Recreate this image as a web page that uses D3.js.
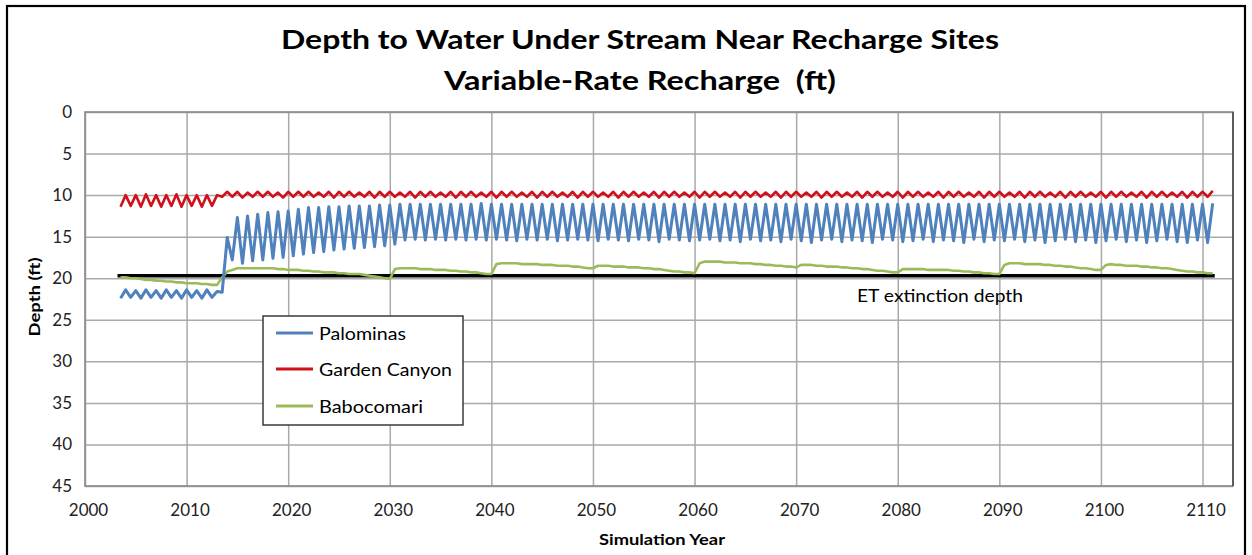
<!DOCTYPE html>
<html>
<head>
<meta charset="utf-8">
<script src="https://cdn.jsdelivr.net/npm/d3@7"></script>
<style>
  html, body { margin: 0; padding: 0; background: #fff; }
  svg { display: block; font-family: Lato, "Open Sans", sans-serif; }
</style>
</head>
<body>
<svg id="chart" width="1252" height="555"></svg>
<script>
// Semiannual model output, first sample at 2003.5
const startYear = 2003.5;
const stepYears = 0.5;

// Depth to water (ft) at Palominas
const palominas = [
  22.4,21.4,22.3,21.5,22.4,21.4,22.3,21.5,22.4,21.4,22.3,21.5,22.4,21.4,22.3,21.5,22.4,21.4,22.3,21.6,
  21.7,15.1,17.8,12.7,18.2,12.5,17.9,12.3,17.8,12.1,17.6,12.0,17.5,11.9,17.3,11.7,17.1,11.5,16.9,11.5,
  16.8,11.4,16.6,11.4,16.5,11.3,16.4,11.3,16.3,11.3,16.2,11.2,16.1,11.2,15.9,11.1,15.4,11.1,15.3,11.1,
  15.4,11.1,15.3,11.1,15.4,11.1,15.3,11.1,15.4,11.1,15.3,11.0,15.4,11.1,15.3,11.1,15.4,11.1,15.5,11.1,
  15.3,11.1,15.4,11.1,15.3,11.1,15.5,11.1,15.4,11.1,15.3,11.1,15.4,11.1,15.5,11.1,15.3,11.1,15.4,11.1,
  15.5,11.1,15.3,11.1,15.4,11.1,15.6,11.1,15.3,11.1,15.4,11.1,15.5,11.1,15.4,11.1,15.3,11.1,15.5,11.1,
  15.4,11.1,15.6,11.1,15.3,11.1,15.5,11.1,15.4,11.1,15.6,11.1,15.3,11.1,15.5,11.1,15.7,11.1,15.4,11.1,
  15.3,11.1,15.6,11.1,15.4,11.1,15.5,11.1,15.7,11.1,15.3,11.1,15.4,11.1,15.6,11.1,15.5,11.1,15.3,11.1,
  15.6,11.1,15.4,11.1,15.5,11.1,15.7,11.1,15.3,11.1,15.6,11.1,15.4,11.1,15.5,11.1,15.3,11.1,15.6,11.1,
  15.4,11.1,15.7,11.1,15.5,11.1,15.3,11.1,15.6,11.1,15.4,11.1,15.7,11.1,15.5,11.1,15.3,11.1,15.6,11.1,
  15.4,11.1,15.7,11.1,15.5,11.1,15.3,11.1,15.6,11.1,15.7,11.1,15.4,11.1,15.7,11.0
];

// Depth to water (ft) at Garden Canyon
const gardenCanyon = [
  11.4,10.0,11.3,10.0,11.4,9.9,11.3,10.0,11.4,10.0,11.3,9.9,11.4,10.0,11.3,10.0,11.4,10.0,11.3,10.0,
  10.2,9.6,10.2,9.6,10.3,9.7,10.2,9.6,10.2,9.6,10.2,9.7,10.3,9.6,10.2,9.6,10.2,9.6,10.2,9.7,
  10.2,9.6,10.3,9.6,10.2,9.6,10.2,9.7,10.2,9.6,10.3,9.6,10.2,9.6,10.2,9.7,10.2,9.6,10.3,9.6,
  10.2,9.6,10.2,9.7,10.2,9.6,10.3,9.6,10.2,9.6,10.2,9.7,10.2,9.6,10.3,9.6,10.2,9.6,10.2,9.7,
  10.2,9.6,10.3,9.6,10.2,9.6,10.2,9.7,10.2,9.6,10.3,9.6,10.2,9.6,10.2,9.7,10.2,9.6,10.3,9.6,
  10.2,9.6,10.2,9.7,10.2,9.6,10.3,9.6,10.2,9.6,10.2,9.7,10.2,9.6,10.3,9.6,10.2,9.6,10.2,9.7,
  10.2,9.6,10.3,9.6,10.2,9.6,10.2,9.7,10.2,9.6,10.3,9.6,10.2,9.6,10.2,9.7,10.2,9.6,10.3,9.6,
  10.2,9.6,10.2,9.7,10.2,9.6,10.3,9.6,10.2,9.6,10.2,9.7,10.2,9.6,10.3,9.6,10.2,9.6,10.2,9.7,
  10.2,9.6,10.3,9.6,10.2,9.6,10.2,9.7,10.2,9.6,10.3,9.6,10.2,9.6,10.2,9.7,10.2,9.6,10.3,9.6,
  10.2,9.6,10.2,9.7,10.2,9.6,10.3,9.6,10.2,9.6,10.2,9.7,10.2,9.6,10.3,9.6,10.2,9.6,10.2,9.7,
  10.2,9.6,10.3,9.6,10.2,9.6,10.2,9.7,10.2,9.6,10.3,9.6,10.2,9.6,10.2,9.5
];

// Depth to water (ft) at Babocomari
const babocomari = [
  19.9,19.9,20.0,20.0,20.1,20.2,20.2,20.3,20.3,20.4,20.4,20.5,20.5,20.6,20.6,20.6,20.7,20.7,20.8,20.8,
  19.9,19.2,19.0,18.8,18.8,18.8,18.8,18.8,18.8,18.8,18.8,18.9,18.9,19.0,19.0,19.0,19.1,19.1,19.2,19.2,
  19.3,19.3,19.3,19.4,19.4,19.5,19.5,19.5,19.6,19.7,19.8,19.9,20.0,20.1,18.9,18.8,18.8,18.8,18.8,18.9,
  18.9,18.9,19.0,19.0,19.0,19.1,19.1,19.2,19.2,19.3,19.3,19.4,19.5,19.5,18.3,18.2,18.2,18.2,18.2,18.3,
  18.3,18.3,18.3,18.4,18.4,18.4,18.5,18.5,18.5,18.6,18.6,18.7,18.8,18.8,18.5,18.5,18.5,18.6,18.6,18.6,
  18.7,18.7,18.7,18.8,18.8,18.9,18.9,19.0,19.1,19.2,19.2,19.3,19.3,19.4,18.2,18.0,18.0,18.0,18.0,18.1,
  18.1,18.1,18.2,18.2,18.2,18.3,18.3,18.4,18.4,18.5,18.5,18.6,18.6,18.7,18.4,18.4,18.4,18.5,18.5,18.6,
  18.6,18.6,18.7,18.7,18.8,18.8,18.9,18.9,19.0,19.1,19.1,19.2,19.3,19.3,18.9,18.9,18.9,18.9,18.9,19.0,
  19.0,19.0,19.0,19.0,19.1,19.1,19.2,19.2,19.3,19.3,19.4,19.4,19.5,19.5,18.4,18.2,18.2,18.2,18.3,18.3,
  18.3,18.3,18.4,18.4,18.5,18.5,18.6,18.6,18.7,18.8,18.8,18.9,19.0,19.0,18.4,18.3,18.4,18.4,18.5,18.5,
  18.5,18.6,18.6,18.7,18.7,18.8,18.8,18.9,19.0,19.1,19.2,19.2,19.3,19.3,19.4,19.4
];

// ET extinction depth reference line
const etDepth = 19.7;
const etSpan = [2003.2, 2111.2];

const seriesNames = ["Palominas", "Garden Canyon", "Babocomari"];
const seriesColors = ["#4F81BD", "#D0111B", "#9BBB59"];
const xTicks = [2000, 2010, 2020, 2030, 2040, 2050, 2060, 2070, 2080, 2090, 2100, 2110];
const yTicks = [0, 5, 10, 15, 20, 25, 30, 35, 40, 45];

const svg = d3.select("#chart");
const plot = { left: 85, right: 1233, top: 112, bottom: 486 };

const x = d3.scaleLinear().domain([2000, 2113]).range([plot.left, plot.right]);
const y = d3.scaleLinear().domain([0, 45]).range([plot.top, plot.bottom]);

// Outer chart frame
svg.append("rect")
  .attr("x", 7).attr("y", 6).attr("width", 1238).attr("height", 570)
  .attr("fill", "#fff").attr("stroke", "#000").attr("stroke-width", 2.2);

// Titles
const title = svg.append("g").attr("font-weight", "bold").attr("fill", "#000")
  .attr("text-anchor", "middle").attr("font-size", 27);
title.append("text").attr("x", 640).attr("y", 49)
  .attr("textLength", 718).attr("lengthAdjust", "spacingAndGlyphs")
  .text("Depth to Water Under Stream Near Recharge Sites");
title.append("text").attr("x", 640).attr("y", 90)
  .attr("textLength", 392).attr("lengthAdjust", "spacingAndGlyphs")
  .attr("xml:space", "preserve")
  .text("Variable-Rate Recharge  (ft)");

// Gridlines
const grid = svg.append("g").attr("stroke", "#A9A9A9").attr("stroke-width", 1.5);
grid.append("g")
  .attr("transform", `translate(0,${plot.bottom})`)
  .call(d3.axisBottom(x).tickValues(xTicks).tickSize(-(plot.bottom - plot.top)).tickFormat(""))
  .call(g => g.select(".domain").remove())
  .call(g => g.selectAll("line").attr("stroke", "#A9A9A9").attr("stroke-width", 1.5));
grid.append("g")
  .attr("transform", `translate(${plot.left},0)`)
  .call(d3.axisLeft(y).tickValues(yTicks).tickSize(-(plot.right - plot.left)).tickFormat(""))
  .call(g => g.select(".domain").remove())
  .call(g => g.selectAll("line").attr("stroke", "#A9A9A9").attr("stroke-width", 1.5));

// Plot-area frame
svg.append("rect")
  .attr("x", plot.left).attr("y", plot.top)
  .attr("width", plot.right - plot.left).attr("height", plot.bottom - plot.top)
  .attr("fill", "none").attr("stroke", "#8A8A8A").attr("stroke-width", 1.6);
svg.append("line")
  .attr("x1", plot.right).attr("x2", plot.right).attr("y1", plot.top).attr("y2", plot.bottom)
  .attr("stroke", "#555").attr("stroke-width", 1.8);

// Tick labels
const yAxis = svg.append("g")
  .attr("transform", `translate(${plot.left - 13},0)`)
  .call(d3.axisLeft(y).tickValues(yTicks).tickSize(0).tickPadding(0));
yAxis.select(".domain").remove();
yAxis.selectAll("text").attr("font-family", "Lato, sans-serif").attr("font-size", 17).attr("fill", "#222");

const xAxis = svg.append("g")
  .attr("transform", `translate(3,${plot.bottom})`)
  .call(d3.axisBottom(x).tickValues(xTicks).tickFormat(d3.format("d")).tickSize(0).tickPadding(18));
xAxis.select(".domain").remove();
xAxis.selectAll("text").attr("font-family", "Lato, sans-serif").attr("font-size", 17).attr("fill", "#222");

// Axis titles
svg.append("text")
  .attr("x", 662).attr("y", 545).attr("text-anchor", "middle")
  .attr("font-weight", "bold").attr("font-size", 16)
  .attr("textLength", 126).attr("lengthAdjust", "spacingAndGlyphs")
  .text("Simulation Year");
svg.append("text")
  .attr("transform", "translate(40,297) rotate(-90)")
  .attr("text-anchor", "middle").attr("font-weight", "bold").attr("font-size", 15)
  .attr("textLength", 79).attr("lengthAdjust", "spacingAndGlyphs")
  .text("Depth (ft)");

// Series lines
const line = d3.line()
  .x((d, i) => x(startYear + i * stepYears))
  .y(d => y(d));

// ET extinction depth line
svg.append("line")
  .attr("x1", x(etSpan[0])).attr("x2", x(etSpan[1]))
  .attr("y1", y(etDepth)).attr("y2", y(etDepth))
  .attr("stroke", "#000").attr("stroke-width", 3.5);

const seriesData = [palominas, gardenCanyon, babocomari];
const widths = [3, 2.6, 2.6];
// draw Babocomari first so the others sit above it
[2, 0, 1].forEach(k => {
  svg.append("path")
    .datum(seriesData[k])
    .attr("d", line)
    .attr("fill", "none")
    .attr("stroke", seriesColors[k])
    .attr("stroke-width", widths[k])
    .attr("stroke-linejoin", "round");
});

svg.append("text")
  .attr("x", 857).attr("y", 302)
  .attr("font-size", 17)
  .attr("textLength", 166).attr("lengthAdjust", "spacingAndGlyphs")
  .text("ET extinction depth");

// Legend
const legend = svg.append("g");
legend.append("rect")
  .attr("x", 263).attr("y", 316).attr("width", 200).attr("height", 109)
  .attr("fill", "#fff").attr("stroke", "#3A3A3A").attr("stroke-width", 1.5);
const legendRows = [333, 369, 406];
const legendLen = [87, 133, 104];
seriesNames.forEach((name, k) => {
  legend.append("line")
    .attr("x1", 276).attr("x2", 313)
    .attr("y1", legendRows[k]).attr("y2", legendRows[k])
    .attr("stroke", seriesColors[k]).attr("stroke-width", 3);
  legend.append("text")
    .attr("x", 319).attr("y", legendRows[k] + 7)
    .attr("font-size", 18)
    .attr("textLength", legendLen[k]).attr("lengthAdjust", "spacingAndGlyphs")
    .text(name);
});
</script>
</body>
</html>
